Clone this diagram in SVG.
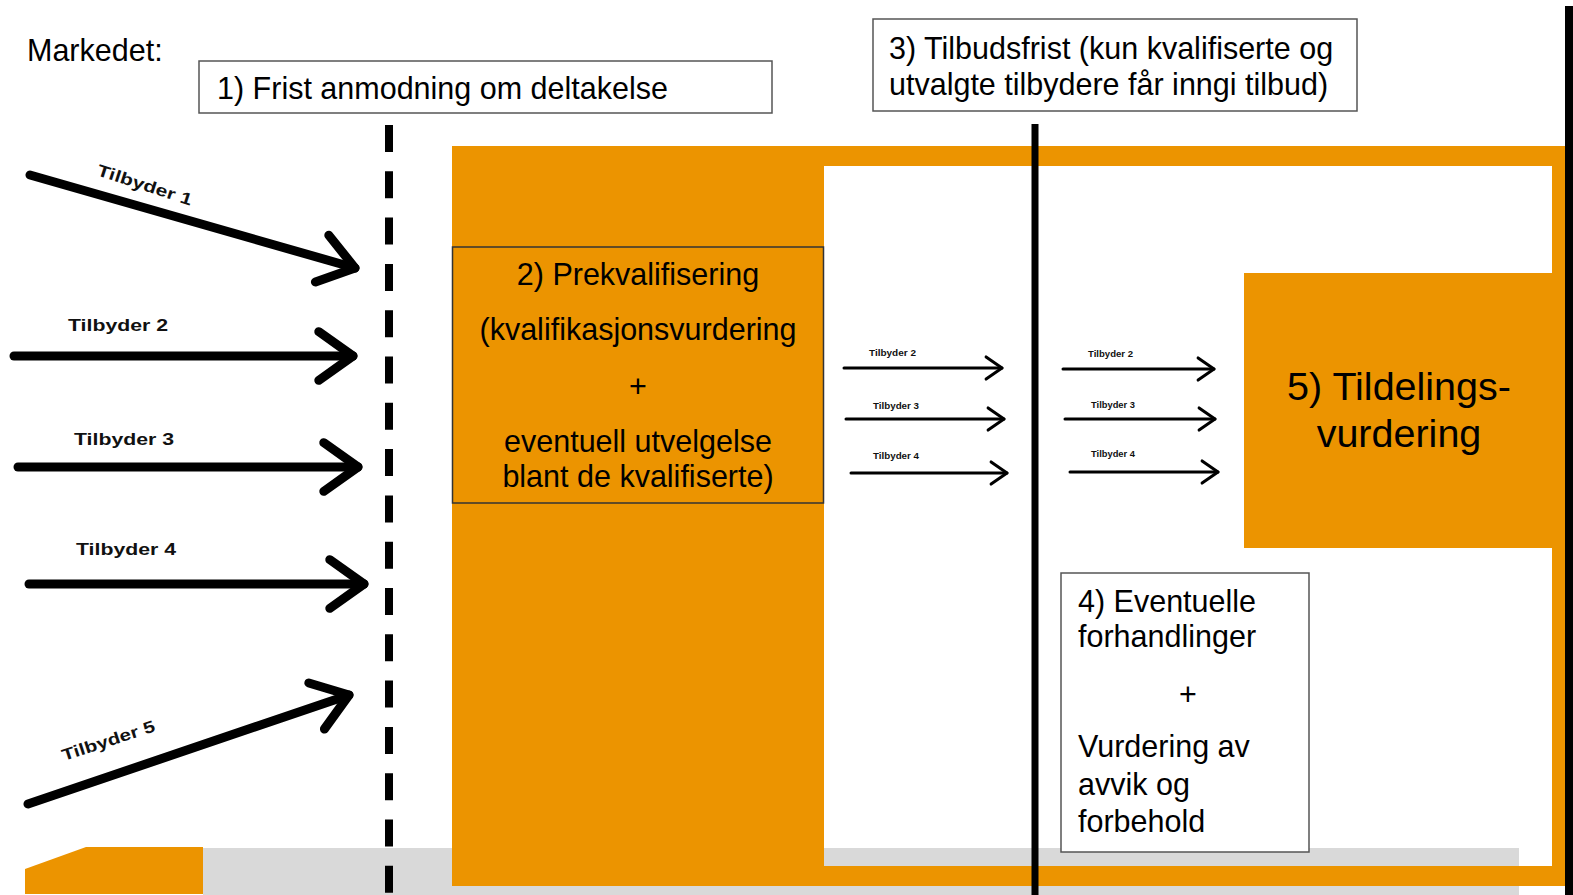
<svg xmlns="http://www.w3.org/2000/svg" width="1573" height="895" viewBox="0 0 1573 895">
<style>
.t{font-family:"Liberation Sans",Arial,sans-serif;font-size:30.5px;fill:#000}
.t5{font-family:"Liberation Sans",Arial,sans-serif;font-size:39.5px;fill:#000}
.lb{font-family:"Liberation Sans",Arial,sans-serif;font-weight:bold;font-size:16.5px;fill:#111}
.ls{font-family:"Liberation Sans",Arial,sans-serif;font-weight:bold;font-size:8.8px;fill:#111}
.box{fill:#fff;stroke:#555;stroke-width:1.5}
.big{stroke:#000;stroke-width:9;stroke-linecap:round;fill:none;marker-end:url(#hb)}
.sm{stroke:#000;stroke-width:3;stroke-linecap:round;fill:none;marker-end:url(#hs)}
.or{fill:#EC9400}
.gr{fill:#D9D9D9}
</style>
<defs>
<marker id="hb" markerUnits="strokeWidth" orient="auto" refX="0" refY="0" markerWidth="6" markerHeight="6" overflow="visible">
<path d="M-3.8,-2.7 L0,0 L-3.8,2.7" fill="none" stroke="#000" stroke-width="1" stroke-linecap="round" stroke-linejoin="round"/>
</marker>
<marker id="hs" markerUnits="strokeWidth" orient="auto" refX="0" refY="0" markerWidth="8" markerHeight="8" overflow="visible">
<path d="M-5.3,-3.7 L0,0 L-5.3,3.7" fill="none" stroke="#000" stroke-width="1" stroke-linecap="round" stroke-linejoin="round"/>
</marker>
</defs>
<rect width="1573" height="895" fill="#fff"/>
<g id="background">
<rect class="gr" x="203" y="848" width="1316" height="47"/>
<polygon class="or" points="25,869 86,847 203,847 203,894 25,894"/>
<path class="or" d="M452,146 H1565 V886 H452 Z M824,166 V866 H1552 V166 Z" fill-rule="evenodd"/>
<rect class="gr" x="824" y="848" width="695" height="18"/>
<rect x="1565" y="6" width="8" height="889" fill="#000"/>
</g>
<g id="deadlines">
<line x1="389" y1="125" x2="389" y2="895" stroke="#000" stroke-width="8" stroke-dasharray="27 19.3"/>
<line x1="1035" y1="124" x2="1035" y2="895" stroke="#000" stroke-width="7"/>
</g>
<g id="markedet">
<text class="t" x="27" y="61">Markedet:</text>
</g>
<g id="node1">
<rect class="box" x="199" y="61" width="573" height="52"/>
<text class="t" x="217" y="99">1) Frist anmodning om deltakelse</text>
</g>
<g id="node2">
<rect x="452.5" y="247" width="371" height="256" fill="#EC9400" stroke="#333" stroke-width="1.5"/>
<text class="t" text-anchor="middle" x="638" y="285">2) Prekvalifisering</text>
<text class="t" text-anchor="middle" x="638" y="340">(kvalifikasjonsvurdering</text>
<text class="t" text-anchor="middle" x="638" y="397">+</text>
<text class="t" text-anchor="middle" x="638" y="452">eventuell utvelgelse</text>
<text class="t" text-anchor="middle" x="638" y="487">blant de kvalifiserte)</text>
</g>
<g id="node3">
<rect class="box" x="873" y="19" width="484" height="92"/>
<text class="t" x="889" y="59">3) Tilbudsfrist (kun kvalifiserte og</text>
<text class="t" x="889" y="95">utvalgte tilbydere får inngi tilbud)</text>
</g>
<g id="node4">
<rect class="box" x="1061" y="573" width="248" height="279"/>
<text class="t" x="1078" y="612">4) Eventuelle</text>
<text class="t" x="1078" y="647">forhandlinger</text>
<text class="t" text-anchor="middle" x="1188" y="705">+</text>
<text class="t" x="1078" y="757">Vurdering av</text>
<text class="t" x="1078" y="795">avvik og</text>
<text class="t" x="1078" y="832">forbehold</text>
</g>
<g id="node5">
<rect class="or" x="1244" y="273" width="321" height="275"/>
<text class="t5" text-anchor="middle" x="1399" y="400">5) Tildelings-</text>
<text class="t5" text-anchor="middle" x="1399" y="447">vurdering</text>
</g>
<g id="connectors">
<line class="big" x1="30" y1="175" x2="355" y2="268"/>
<line class="big" x1="14" y1="356" x2="353" y2="356"/>
<line class="big" x1="18" y1="467" x2="358" y2="467"/>
<line class="big" x1="29" y1="584" x2="364" y2="584"/>
<line class="big" x1="28" y1="804" x2="349" y2="695"/>
<line class="sm" x1="844" y1="368" x2="1002" y2="368"/>
<line class="sm" x1="846" y1="419" x2="1004" y2="419"/>
<line class="sm" x1="851" y1="473" x2="1007" y2="473"/>
<line class="sm" x1="1063" y1="369" x2="1214" y2="369"/>
<line class="sm" x1="1065" y1="419" x2="1215" y2="419"/>
<line class="sm" x1="1070" y1="472" x2="1218" y2="472"/>
</g>
<g id="labels">
<text class="lb" x="96" y="175" transform="rotate(18 96 175)" textLength="99" lengthAdjust="spacingAndGlyphs">Tilbyder 1</text>
<text class="lb" x="68" y="331" textLength="100" lengthAdjust="spacingAndGlyphs">Tilbyder 2</text>
<text class="lb" x="74" y="445" textLength="100" lengthAdjust="spacingAndGlyphs">Tilbyder 3</text>
<text class="lb" x="76" y="555" textLength="100" lengthAdjust="spacingAndGlyphs">Tilbyder 4</text>
<text class="lb" x="64" y="761" transform="rotate(-18 64 761)" textLength="97" lengthAdjust="spacingAndGlyphs">Tilbyder 5</text>
<text class="ls" x="869" y="356" textLength="47" lengthAdjust="spacingAndGlyphs">Tilbyder 2</text>
<text class="ls" x="873" y="409" textLength="46" lengthAdjust="spacingAndGlyphs">Tilbyder 3</text>
<text class="ls" x="873" y="459" textLength="46" lengthAdjust="spacingAndGlyphs">Tilbyder 4</text>
<text class="ls" x="1088" y="357" textLength="45" lengthAdjust="spacingAndGlyphs">Tilbyder 2</text>
<text class="ls" x="1091" y="408" textLength="44" lengthAdjust="spacingAndGlyphs">Tilbyder 3</text>
<text class="ls" x="1091" y="457" textLength="44" lengthAdjust="spacingAndGlyphs">Tilbyder 4</text>
</g>
</svg>
